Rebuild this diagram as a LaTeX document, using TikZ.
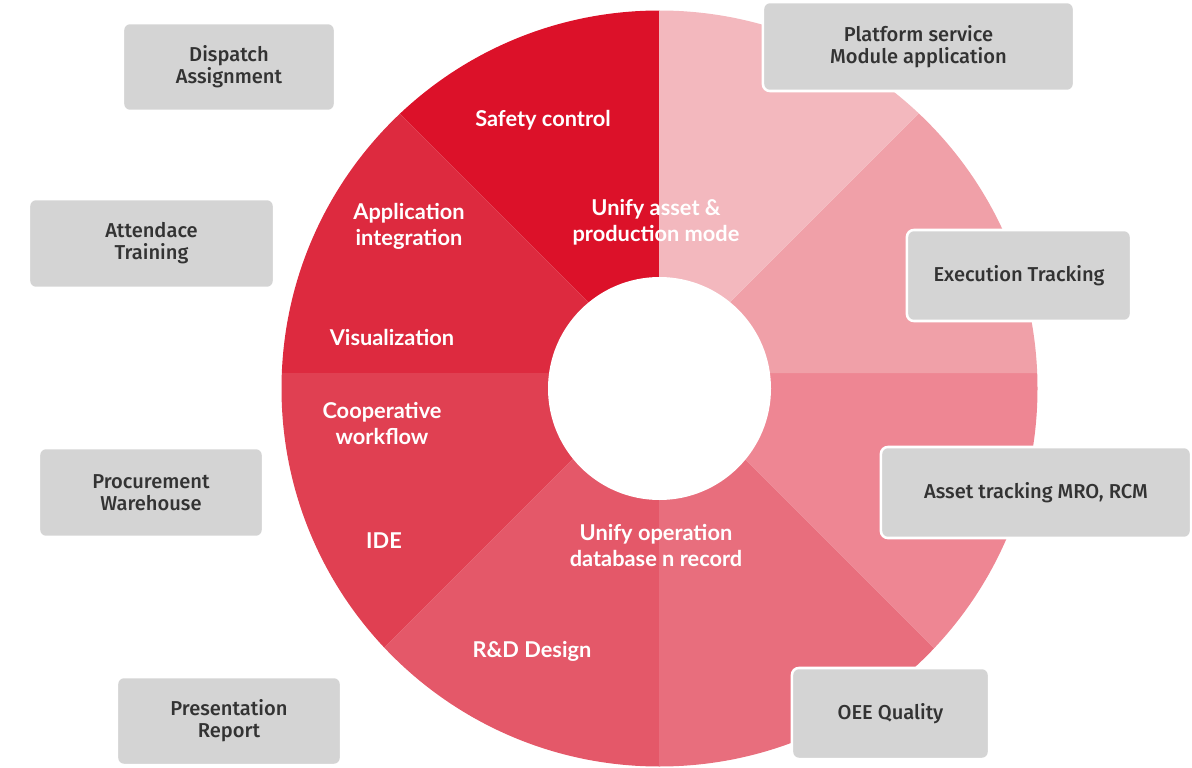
\documentclass[tikz,border=0pt]{standalone}
\usepackage{fontspec}
\setmainfont{Liberation Sans}
\newfontfamily\ringfont{Lato}
\newfontfamily\boxfont{Fira Sans Medium}
\definecolor{ringA}{HTML}{DC1129}
\definecolor{ringB}{HTML}{DD2A3F}
\definecolor{ringC}{HTML}{E04052}
\definecolor{ringD}{HTML}{E45869}
\definecolor{ringE}{HTML}{E86E7D}
\definecolor{ringF}{HTML}{EE8693}
\definecolor{ringG}{HTML}{F0A0A8}
\definecolor{ringH}{HTML}{F3B8BE}
\definecolor{boxgray}{HTML}{D4D4D4}
\definecolor{boxtext}{HTML}{333333}
\tikzset{
  ringlabel/.style={text=white, align=center, font=\ringfont\bfseries\fontsize{15.5}{18.5}\selectfont},
  tagbox/.style={fill=boxgray, draw=white, line width=1.8pt, rounded corners=0.17cm,
    text=boxtext, align=center, inner sep=0pt, font=\boxfont\fontsize{14.3}{15.6}\selectfont}
}

\begin{document}
\begin{tikzpicture}[x=0.025cm, y=-0.025cm]
% Frame
    \useasboundingbox (0,0) rectangle (1192,768);
% Ring segments
    \begin{scope}
    \clip (659,373) -- (659,-227) -- (234.7,-51.3) -- cycle;
    \fill[ringA] (659.5,388.5) circle (378);
    \end{scope}
    \begin{scope}
    \clip (659,373) -- (234.7,-51.3) -- (59,373) -- cycle;
    \fill[ringB] (659.5,388.5) circle (378);
    \end{scope}
    \begin{scope}
    \clip (659,373) -- (59,373) -- (234.7,797.3) -- cycle;
    \fill[ringC] (659.5,388.5) circle (378);
    \end{scope}
    \begin{scope}
    \clip (659,373) -- (234.7,797.3) -- (659,973) -- cycle;
    \fill[ringD] (659.5,388.5) circle (378);
    \end{scope}
    \begin{scope}
    \clip (659,373) -- (659,973) -- (1083.3,797.3) -- cycle;
    \fill[ringE] (659.5,388.5) circle (378);
    \end{scope}
    \begin{scope}
    \clip (659,373) -- (1083.3,797.3) -- (1259,373) -- cycle;
    \fill[ringF] (659.5,388.5) circle (378);
    \end{scope}
    \begin{scope}
    \clip (659,373) -- (1259,373) -- (1083.3,-51.3) -- cycle;
    \fill[ringG] (659.5,388.5) circle (378);
    \end{scope}
    \begin{scope}
    \clip (659,373) -- (1083.3,-51.3) -- (659,-227) -- cycle;
    \fill[ringH] (659.5,388.5) circle (378);
    \end{scope}
% Hole
    \fill[white] (659.5,388.5) circle (111.5);
% Ring labels
    \node[ringlabel] (safety) at (543,120) {Safety control};
    \node[ringlabel] (appint) at (409,226) {Application\\integration};
    \node[ringlabel] (visual) at (392,337) {Visualization};
    \node[ringlabel] (coop) at (382,423) {Cooperative\\workflow};
    \node[ringlabel] (ide) at (384,541) {IDE};
    \node[ringlabel] (rnd) at (532,651) {R\&D Design};
    \node[ringlabel] (unifyasset) at (656,222) {Unify asset \&\\production mode};
    \node[ringlabel] (unifyop) at (656,545) {Unify operation\\database n record};
% Side boxes
    \node[tagbox, minimum width=5.3cm, minimum height=2.2cm] (dispatch) at (229,67) {Dispatch\\Assignment};
    \node[tagbox, minimum width=6.125cm, minimum height=2.225cm] (attend) at (151.5,243.5) {Attendace\\Training};
    \node[tagbox, minimum width=5.6cm, minimum height=2.225cm] (procure) at (151,492.5) {Procurement\\Warehouse};
    \node[tagbox, minimum width=5.6cm, minimum height=2.2cm] (present) at (229,721) {Presentation\\Report};
    \node[tagbox, minimum width=7.775cm, minimum height=2.225cm] (platform) at (918.5,46.5) {Platform service\\Module application};
    \node[tagbox, minimum width=5.6cm, minimum height=2.275cm] (exec) at (1019,275.5) {Execution Tracking};
    \node[tagbox, minimum width=7.75cm, minimum height=2.275cm] (asset) at (1036,492.5) {Asset tracking MRO, RCM};
    \node[tagbox, minimum width=4.925cm, minimum height=2.275cm] (oee) at (890.5,713.5) {OEE Quality};
\end{tikzpicture}
\end{document}
